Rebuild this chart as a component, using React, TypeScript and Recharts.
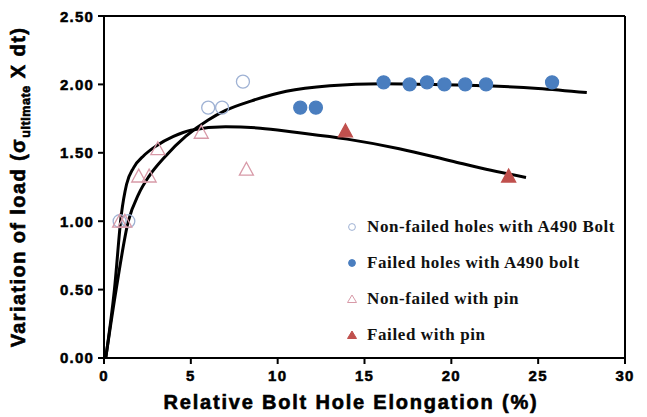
import {
    ComposedChart,
    Line,
    Scatter,
    XAxis,
    YAxis,
    ReferenceLine,
} from "recharts";

// measured points
const nonFailedBolt = [
    { x: 0.9, y: 1.0 },
    { x: 1.4, y: 1.0 },
    { x: 6.0, y: 1.83 },
    { x: 6.8, y: 1.83 },
    { x: 8.0, y: 2.02 },
];

const failedBolt = [
    { x: 11.3, y: 1.83 },
    { x: 12.2, y: 1.83 },
    { x: 16.1, y: 2.015 },
    { x: 17.6, y: 2.0 },
    { x: 18.6, y: 2.015 },
    { x: 19.6, y: 2.0 },
    { x: 20.8, y: 2.0 },
    { x: 22.0, y: 2.0 },
    { x: 25.8, y: 2.015 },
];

const nonFailedPin = [
    { x: 0.9, y: 1.0 },
    { x: 1.2, y: 1.0 },
    { x: 2.0, y: 1.33 },
    { x: 2.6, y: 1.33 },
    { x: 3.1, y: 1.53 },
    { x: 5.6, y: 1.65 },
    { x: 8.2, y: 1.38 },
];

const failedPin = [
    { x: 13.9, y: 1.66 },
    { x: 23.3, y: 1.33 },
];

// fitted trend lines
const boltTrend = [
    { x: 0.1, y: 0 },
    { x: 0.7, y: 0.5 },
    { x: 1.4, y: 1.0 },
    { x: 2.0, y: 1.2 },
    { x: 2.6, y: 1.33 },
    { x: 3.5, y: 1.47 },
    { x: 4.7, y: 1.62 },
    { x: 6.0, y: 1.74 },
    { x: 7.0, y: 1.81 },
    { x: 8.5, y: 1.88 },
    { x: 10.5, y: 1.95 },
    { x: 13.0, y: 1.99 },
    { x: 16.0, y: 2.005 },
    { x: 19.0, y: 2.0 },
    { x: 22.0, y: 1.99 },
    { x: 25.0, y: 1.97 },
    { x: 27.8, y: 1.94 },
];

const pinTrend = [
    { x: 0.1, y: 0 },
    { x: 0.6, y: 0.5 },
    { x: 1.0, y: 1.05 },
    { x: 1.3, y: 1.27 },
    { x: 1.7, y: 1.39 },
    { x: 2.3, y: 1.48 },
    { x: 3.0, y: 1.55 },
    { x: 4.0, y: 1.62 },
    { x: 5.0, y: 1.665 },
    { x: 7.0, y: 1.69 },
    { x: 9.0, y: 1.68 },
    { x: 11.0, y: 1.65 },
    { x: 14.0, y: 1.6 },
    { x: 17.0, y: 1.53 },
    { x: 20.0, y: 1.44 },
    { x: 22.0, y: 1.38 },
    { x: 24.3, y: 1.32 },
];

const xTicks = [0, 5, 10, 15, 20, 25, 30];
const yTicks = [0, 0.5, 1.0, 1.5, 2.0, 2.5];

const legendItems = [
    { label: "Non-failed holes with A490 Bolt", kind: "circle", fill: "none", stroke: "#9fb2d4" },
    { label: "Failed holes with A490 bolt", kind: "circle", fill: "#4a7ebf", stroke: "#4a7ebf" },
    { label: "Non-failed with pin", kind: "tri", fill: "none", stroke: "#d89aa8" },
    { label: "Failed with pin", kind: "tri", fill: "#c0504d", stroke: "#c0504d" },
];

const SANS = "'Liberation Sans', Arial, sans-serif";
const tickStyle = {
    fill: "#000",
    stroke: "#000",
    strokeWidth: 0.5,
    fontFamily: SANS,
    fontWeight: "bold",
    fontSize: 15,
    letterSpacing: 1.2,
};

function Circle(fill: string, stroke: string, r: number) {
    return (props: any) => (
        <circle cx={props.cx} cy={props.cy} r={r} fill={fill} stroke={stroke} strokeWidth={1.3} />
    );
}

function Tri(fill: string, stroke: string, s: number) {
    return (props: any) => {
        const { cx, cy } = props;
        const h = s * 0.85;
        const pts = `${cx},${cy - h / 2 - 1} ${cx - s / 2},${cy + h / 2} ${cx + s / 2},${cy + h / 2}`;
        return <polygon points={pts} fill={fill} stroke={stroke} strokeWidth={1.3} />;
    };
}

function LegendBox() {
    return (
        <div
            style={{
                position: "absolute",
                left: 337,
                top: 201,
                fontFamily: "'Liberation Serif', 'Times New Roman', serif",
                fontWeight: "bold",
                fontSize: 17,
                letterSpacing: 0.6,
                color: "#111",
            }}
        >
            {legendItems.map((it) => (
                <div key={it.label} style={{ display: "flex", alignItems: "center", height: 36 }}>
                    <svg width={14} height={14} style={{ marginRight: 8 }}>
                        {it.kind === "circle" ? (
                            <circle cx={7} cy={7} r={3.4} fill={it.fill} stroke={it.stroke} strokeWidth={1} />
                        ) : (
                            <polygon points="7,3 2.5,10.5 11.5,10.5" fill={it.fill} stroke={it.stroke} strokeWidth={1} />
                        )}
                    </svg>
                    <span style={{ whiteSpace: "nowrap" }}>{it.label}</span>
                </div>
            ))}
        </div>
    );
}

function YTitle(props: any) {
    const vb = props.viewBox;
    const cx = 17;
    const cy = vb.y + vb.height / 2;
    return (
        <text
            x={cx}
            y={cy}
            transform={`rotate(-90, ${cx}, ${cy})`}
            textAnchor="middle"
            fontFamily={SANS}
            fontWeight="bold"
            fontSize={20}
            letterSpacing={1.4}
            stroke="#000"
            strokeWidth={0.6}
            fill="#000"
        >
            <tspan>Variation of load (σ</tspan>
            <tspan fontSize={12.5} letterSpacing={0.6} dy={5}>ultimate</tspan>
            <tspan dy={-5}> X dt)</tspan>
        </text>
    );
}

function XTitle() {
    return (
        <text
            x={343}
            y={401}
            textAnchor="middle"
            fontFamily={SANS}
            fontWeight="bold"
            fontSize={20}
            letterSpacing={1.8}
            stroke="#000"
            strokeWidth={0.6}
            fill="#000"
        >
            Relative Bolt Hole Elongation (%)
        </text>
    );
}

export default function App() {
    return (
        <div style={{ position: "relative", width: 631, height: 409 }}>
            <ComposedChart
                width={631}
                height={409}
                margin={{ top: 8, right: 14, left: 0, bottom: 0 }}
            >
                <XAxis
                    dataKey="x"
                    type="number"
                    domain={[0, 30]}
                    ticks={xTicks}
                    allowDuplicatedCategory={false}
                    stroke="#000"
                    strokeWidth={2}
                    tickSize={6}
                    tickMargin={6}
                    height={59}
                    tick={tickStyle}
                    label={{ content: XTitle }}
                />
                <YAxis
                    dataKey="y"
                    type="number"
                    domain={[0, 2.5]}
                    ticks={yTicks}
                    width={96}
                    stroke="#000"
                    strokeWidth={2}
                    tickSize={6}
                    tickMargin={4}
                    tickFormatter={(v: number) => v.toFixed(2)}
                    tick={tickStyle}
                    label={{ content: YTitle }}
                />
                <ReferenceLine y={2.5} stroke="#000" strokeWidth={2} />
                <ReferenceLine x={30} stroke="#000" strokeWidth={2} />

                <Line data={boltTrend} dataKey="y" type="monotone" stroke="#000" strokeWidth={3} dot={false} isAnimationActive={false} />
                <Line data={pinTrend} dataKey="y" type="monotone" stroke="#000" strokeWidth={3} dot={false} isAnimationActive={false} />

                <Scatter data={nonFailedBolt} dataKey="y" shape={Circle("none", "#9fb2d4", 6.5)} isAnimationActive={false} />
                <Scatter data={failedBolt} dataKey="y" shape={Circle("#4a7ebf", "#4a7ebf", 6.5)} isAnimationActive={false} />
                <Scatter data={nonFailedPin} dataKey="y" shape={Tri("none", "#d89aa8", 14)} isAnimationActive={false} />
                <Scatter data={failedPin} dataKey="y" shape={Tri("#c0504d", "#c0504d", 14)} isAnimationActive={false} />
            </ComposedChart>
            <LegendBox />
        </div>
    );
}
